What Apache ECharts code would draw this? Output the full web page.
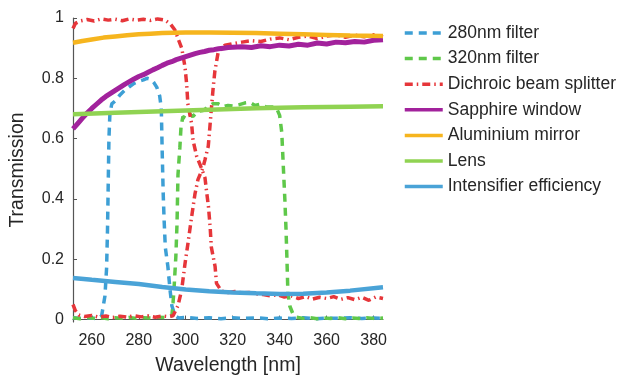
<!DOCTYPE html>
<html>
<head>
<meta charset="utf-8">
<script src="https://cdn.jsdelivr.net/npm/echarts@6/dist/echarts.min.js"></script>
<style>
html,body{margin:0;padding:0;background:#fff;}
#chart{width:620px;height:381px;}
</style>
</head>
<body>
<div id="chart"></div>
<script>
var xTicks = [260, 280, 300, 320, 340, 360, 380];
var yTicks = [0, 0.2, 0.4, 0.6, 0.8, 1];
var seriesNames = ['280nm filter', '320nm filter', 'Dichroic beam splitter', 'Sapphire window', 'Aluminium mirror', 'Lens', 'Intensifier efficiency'];

var filter280 = [[252,0.006],[255,0.004],[258,0.006],[261,0.004],[263,0.005],[264.2,0.013],[265.6,0.078],[266.3,0.17],[266.7,0.3],[267.0,0.45],[267.3,0.6],[267.7,0.68],[268.5,0.715],[270,0.725],[272,0.745],[274,0.76],[276,0.772],[278,0.783],[280,0.79],[282,0.795],[283.5,0.8],[285,0.797],[286.5,0.785],[287.7,0.77],[288.9,0.742],[289.6,0.70],[290.0,0.55],[290.4,0.42],[290.8,0.33],[291.3,0.24],[292.4,0.176],[293.3,0.10],[294.1,0.046],[295.4,0.013],[297,0.005],[300,0.007],[305,0.004],[310,0.006],[315,0.003],[320,0.006],[325,0.004],[330,0.006],[335,0.003],[340,0.005],[345,0.004],[350,0.006],[355,0.003],[360,0.005],[365,0.004],[370,0.006],[375,0.004],[380,0.005],[384,0.004]];

var filter320 = [[252,0.006],[255,0.003],[258,0.007],[261,0.004],[264,0.006],[267,0.003],[270,0.006],[273,0.004],[276,0.007],[279,0.004],[282,0.006],[285,0.005],[288,0.008],[291,0.007],[293,0.01],[294.1,0.013],[294.6,0.056],[295.0,0.10],[295.4,0.155],[295.8,0.21],[296.3,0.32],[296.7,0.48],[297.5,0.57],[298.0,0.64],[298.8,0.673],[300,0.668],[301.5,0.683],[303,0.673],[305,0.69],[307.3,0.693],[309.5,0.705],[311.6,0.716],[313.7,0.716],[316,0.706],[318,0.71],[320,0.708],[322.5,0.712],[325,0.718],[327.3,0.72],[329.5,0.71],[331.6,0.714],[334,0.706],[337,0.705],[339,0.695],[340,0.677],[340.9,0.62],[341.6,0.5],[342.2,0.4],[342.7,0.3],[343.1,0.2],[343.5,0.09],[344.3,0.045],[345.6,0.02],[347,0.008],[350,0.004],[353,0.006],[356,0.003],[359,0.005],[362,0.004],[365,0.006],[368,0.003],[371,0.005],[374,0.004],[377,0.006],[380,0.004],[384,0.005]];

var dichroicReflect = [[252,0.965],[253,0.982],[255,0.99],[258,0.995],[261,0.99],[264,0.997],[267,0.993],[270,0.996],[273,0.991],[276,0.997],[279,0.993],[282,0.996],[285,0.992],[288,0.997],[291.1,0.993],[293.5,0.98],[295.4,0.96],[296.8,0.93],[298.3,0.90],[299.7,0.837],[300.4,0.78],[300.9,0.716],[302.5,0.65],[303.1,0.595],[304.6,0.543],[306.8,0.50],[308.2,0.47],[308.8,0.43],[309.7,0.373],[310.4,0.307],[310.9,0.24],[312.5,0.176],[313.1,0.12],[315.2,0.095],[318,0.09],[321,0.093],[324,0.088],[327,0.09],[330,0.085],[333,0.083],[336,0.079],[339,0.082],[342,0.075],[345,0.078],[348,0.07],[351,0.076],[354,0.068],[357,0.074],[360,0.07],[363,0.076],[366,0.067],[369,0.073],[372,0.066],[375,0.074],[378,0.064],[381,0.075],[384,0.07]];

var dichroicTransmit = [[252,0.05],[253,0.03],[254.5,0.015],[257,0.01],[260,0.014],[263,0.008],[266,0.012],[269,0.007],[272,0.011],[275,0.008],[278,0.013],[281,0.009],[284,0.012],[287,0.008],[290,0.012],[292.5,0.01],[294.6,0.013],[296.7,0.046],[298.3,0.10],[299.7,0.186],[300.9,0.25],[302.5,0.34],[303.9,0.415],[305.2,0.464],[307.3,0.503],[308.2,0.53],[309.6,0.575],[310.3,0.64],[311.0,0.706],[311.7,0.77],[312.4,0.823],[313.8,0.886],[316.7,0.91],[320,0.915],[324,0.92],[328,0.925],[332,0.922],[336,0.93],[340,0.934],[344,0.928],[348,0.936],[352,0.94],[356,0.932],[360,0.94],[364,0.944],[368,0.936],[372,0.943],[376,0.938],[380,0.945],[384,0.938]];

var sapphire = [[252,0.632],[254,0.65],[256,0.668],[258,0.685],[260,0.70],[262,0.714],[264,0.728],[266,0.74],[268,0.75],[270,0.76],[272,0.77],[274,0.78],[276,0.789],[278,0.798],[280,0.806],[282,0.812],[284,0.82],[286,0.828],[288,0.835],[290,0.843],[292,0.85],[294,0.855],[296,0.862],[298,0.867],[300,0.872],[302,0.877],[304,0.882],[306,0.886],[308,0.889],[310,0.893],[312,0.895],[314,0.898],[316,0.90],[318,0.902],[320,0.903],[324,0.905],[328,0.902],[332,0.908],[336,0.905],[340,0.91],[344,0.907],[348,0.913],[352,0.91],[356,0.917],[360,0.914],[364,0.92],[368,0.918],[372,0.922],[376,0.92],[380,0.926],[384,0.928]];

var aluminium = [[252,0.918],[256,0.924],[260,0.929],[265,0.935],[270,0.939],[275,0.943],[280,0.946],[285,0.948],[290,0.95],[295,0.951],[300,0.952],[310,0.952],[320,0.951],[330,0.95],[340,0.948],[350,0.946],[360,0.944],[370,0.942],[384,0.94]];

var lens = [[252,0.681],[270,0.686],[290,0.691],[310,0.696],[330,0.701],[350,0.704],[370,0.706],[384,0.707]];

var intensifier = [[252,0.138],[260,0.132],[270,0.125],[280,0.118],[290,0.108],[300,0.1],[310,0.094],[320,0.09],[330,0.087],[340,0.085],[350,0.086],[360,0.09],[370,0.096],[384,0.107]];

var colors = {
  f280: '#3d9fd5',
  f320: '#5fc84a',
  dich: '#e6363a',
  sapph: '#a2229c',
  alum: '#f6b51e',
  lens: '#90d352',
  inten: '#4aa3d7'
};

function lineSeries(name, data, color, width, type) {
  return {
    name: name,
    type: 'line',
    data: data,
    showSymbol: false,
    symbol: 'none',
    smooth: false,
    animation: false,
    color: color,
    lineStyle: { color: color, width: width, type: type || 'solid', cap: 'butt' },
    emphasis: { disabled: true }
  };
}

var font = 'Liberation Sans, Arial, Helvetica, sans-serif';
var chart = echarts.init(document.getElementById('chart'), null, { renderer: 'canvas' });
chart.setOption({
  animation: false,
  backgroundColor: '#ffffff',
  grid: { left: 73, right: 237, top: 18, bottom: 55, containLabel: false },
  legend: {
    orient: 'vertical',
    left: 403,
    top: 24,
    padding: 0,
    itemWidth: 38,
    itemHeight: 16,
    itemGap: 7.6,
    data: seriesNames,
    itemStyle: { opacity: 0 },
    lineStyle: { width: 3.5 },
    textStyle: { fontFamily: font, fontSize: 17.5, lineHeight: 16, color: '#262626' },
    selectedMode: false
  },
  xAxis: {
    type: 'value',
    min: 252,
    max: 384,
    name: 'Wavelength [nm]',
    nameLocation: 'middle',
    nameGap: 34,
    nameTextStyle: { fontFamily: font, fontSize: 19.5, color: '#262626' },
    axisLine: { show: true, lineStyle: { color: '#555555', width: 1.2 } },
    axisTick: { show: true, inside: true, length: 4, customValues: xTicks, lineStyle: { color: '#555555' } },
    axisLabel: { customValues: xTicks, fontFamily: font, fontSize: 16, color: '#262626', margin: 11 },
    splitLine: { show: false }
  },
  yAxis: {
    type: 'value',
    min: -0.008,
    max: 1,
    name: 'Transmission',
    nameLocation: 'middle',
    nameGap: 45,
    nameTextStyle: { fontFamily: font, fontSize: 19.5, color: '#262626' },
    axisLine: { show: true, lineStyle: { color: '#555555', width: 1.2 } },
    axisTick: { show: true, inside: true, length: 4, customValues: yTicks, lineStyle: { color: '#555555' } },
    axisLabel: {
      customValues: yTicks, fontFamily: font, fontSize: 16, color: '#262626', margin: 9,
      formatter: function (v) { return String(Math.round(v * 10) / 10); }
    },
    splitLine: { show: false }
  },
  series: [
    lineSeries(seriesNames[0], filter280, colors.f280, 3.5, [8, 6]),
    lineSeries(seriesNames[1], filter320, colors.f320, 3.5, [8, 6]),
    lineSeries(seriesNames[2], dichroicReflect, colors.dich, 3.5, [8, 4, 1.5, 4]),
    lineSeries(seriesNames[2], dichroicTransmit, colors.dich, 3.5, [8, 4, 1.5, 4]),
    lineSeries(seriesNames[3], sapphire, colors.sapph, 5),
    lineSeries(seriesNames[4], aluminium, colors.alum, 4.5),
    lineSeries(seriesNames[5], lens, colors.lens, 4.5),
    lineSeries(seriesNames[6], intensifier, colors.inten, 4.5)
  ]
});
</script>
</body>
</html>
